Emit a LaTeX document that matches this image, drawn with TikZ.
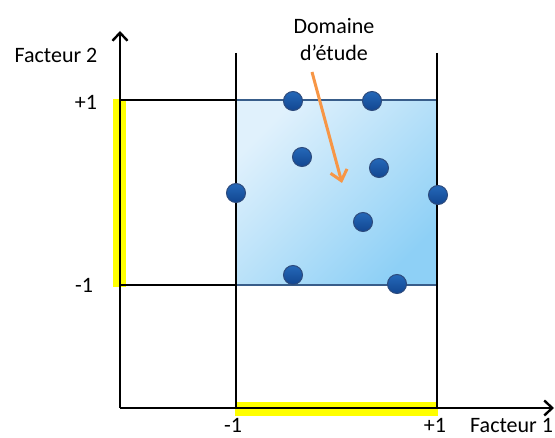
\documentclass[tikz,border=0pt]{standalone}
\usepackage{fontspec}
\setmainfont{Carlito}
\usetikzlibrary{arrows.meta,positioning}

\definecolor{dotblue}{RGB}{36,104,184}
\definecolor{dotdark}{RGB}{18,70,145}
\definecolor{dotedge}{RGB}{45,75,125}
\definecolor{boxedge}{RGB}{56,93,138}
\definecolor{boxlight}{RGB}{224,241,252}
\definecolor{boxdark}{RGB}{142,208,246}
\definecolor{arrorange}{RGB}{247,150,70}
\definecolor{hiyellow}{RGB}{255,255,0}

\begin{document}
\begin{tikzpicture}[
  x=1pt, y=-1pt,
  axisarr/.style = {-{Straight Barb[length=8pt,width=15pt]}, line width=2.4pt},
  grid/.style    = {black, line width=1.2pt},
  hibar/.style   = {fill=hiyellow, draw=none},
  dot/.style     = {circle, inner sep=0pt, minimum size=19pt, draw=dotedge,
                    line width=1pt, top color=dotblue, bottom color=dotdark},
  lbl/.style     = {font=\fontsize{22}{27}\selectfont, inner sep=1pt},
  pointer/.style = {-{Straight Barb[length=10pt,width=17pt]}, arrorange,
                    line width=3pt},
]
\useasboundingbox (0,0) rectangle (555,438);

%% ------------------------------------------------------------------ HIGHLIGHTS
\fill[hibar] (113,99) rectangle (126,287);
\fill[hibar] (235,402) rectangle (438,416);

%% ------------------------------------------------------------------ DOMAIN
\shade[top color=boxlight, bottom color=boxdark, shading angle=45]
  (236,100) rectangle (437,285);
\draw[boxedge, line width=1.5pt] (236,100) -- (437,100);
\draw[boxedge, line width=1.5pt] (236,285) -- (437,285);

% levels -1 / +1 of each factor
\draw[grid] (120,100) -- (236,100);
\draw[grid] (120,285) -- (236,285);
\draw[grid] (236,53) -- (236,408);
\draw[grid] (437,53) -- (437,408);

%% ------------------------------------------------------------------ AXES
\coordinate (orig) at (120,408);
\coordinate (xend) at (554,408);
\coordinate (yend) at (120,31);
\draw[axisarr] (orig) -- (yend);
\draw[axisarr] (orig) -- (xend);

\node[lbl, anchor=base] (fac2)  at (56,63)   {Facteur 2};
\node[lbl, anchor=base] (yp1)   at (86,110)  {+1};
\node[lbl, anchor=base] (ym1)   at (84,293)  {-1};
\node[lbl, anchor=base] (xm1)   at (233,433) {-1};
\node[lbl, anchor=base] (xp1)   at (435,433) {+1};
\node[lbl, anchor=base west] (fac1) at (469,433) {Facteur 1};

%% ------------------------------------------------------------------ POINTS
\foreach \p/\n in {{293,101}/a, {372,101}/b, {302,157}/c, {379,168}/d,
                   {236,193}/e, {438,195}/f, {363,222}/g, {293,275}/h,
                   {397,284}/i}
  { \node[dot] (pt\n) at (\p) {}; }

%% ------------------------------------------------------------------ CALLOUT
\node[lbl, align=center, anchor=north] (dom) at (334,17) {Domaine\\d’étude};
\coordinate (domfoot) at (312,72);
\coordinate (domtip) at (342,183);
\draw[pointer] (domfoot) -- (domtip);

\end{tikzpicture}
\end{document}
